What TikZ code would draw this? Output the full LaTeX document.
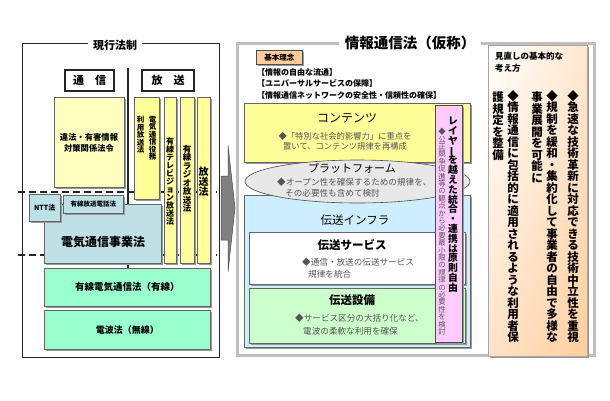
\documentclass[tikz,border=0pt]{standalone}
\usepackage{fontspec}
\setmainfont{Noto Sans CJK JP}
\usetikzlibrary{shapes.geometric,shadows,shadings}
\definecolor{ylw}{HTML}{FFFFC0}
\definecolor{ylwc}{HTML}{FFFF99}
\definecolor{blu}{HTML}{BDE1E6}
\definecolor{grn}{HTML}{99FFCC}
\definecolor{ell}{HTML}{E8E8E8}
\definecolor{infra}{HTML}{CCEEFF}
\definecolor{equip}{HTML}{CCFFCC}
\definecolor{pnk}{HTML}{FFCCFF}
\definecolor{peach}{HTML}{FFCC99}
\definecolor{txtgray}{HTML}{555555}
\newcommand\fsz[2]{\fontsize{#1}{#2}\selectfont}
\ExplSyntaxOn
\NewDocumentCommand\vstack{m}{
  \vbox{\baselineskip=1em \lineskiplimit=-\maxdimen \lineskip=0pt
    \tl_map_inline:nn {#1} {\hbox~to~1em{\hss ##1\hss}}}
}
\ExplSyntaxOff
\newcommand\vbar{\rotatebox[origin=c]{90}{ー}}
\tikzset{
  box/.style={draw=black!60, line width=0.6pt, inner sep=0pt, anchor=north west,
    drop shadow={shadow xshift=2pt, shadow yshift=-2pt, fill=black!40, opacity=1}},
  hdr/.style={draw=black!85, line width=2pt, fill=white, inner sep=0pt, anchor=north west,
    font=\fsz{11}{13}\bfseries},
  vt/.style={inner sep=0pt, anchor=north},
  desc/.style={inner sep=0pt, text=txtgray},
  lbl/.style={inner sep=0pt},
}
\begin{document}
\begin{tikzpicture}[x=1pt,y=-1pt]
\useasboundingbox (0,0) rectangle (610,400);

% ---------------- left panel ----------------
\draw[line width=1pt, black!85] (22,43) rectangle (219,357);
\node[fill=white, inner xsep=5pt, inner ysep=1pt, font=\fsz{11}{13}\bfseries] (lt) at (115,45) {現行法制};
\draw[line width=1.5pt, black!85] (128,68) -- (128,268);
\coordinate (d1a) at (18,192); \coordinate (d1b) at (217,192);
\coordinate (d2a) at (18,255); \coordinate (d2b) at (217,255);
\draw[line width=1.8pt, black!85, dash pattern=on 7pt off 4pt] (d1a) -- (d1b);
\draw[line width=1.8pt, black!85, dash pattern=on 7pt off 4pt] (d2a) -- (d2b);

\node[hdr, minimum width=49pt, minimum height=21pt] (tsu) at (64,69) {通　信};
\node[hdr, minimum width=52pt, minimum height=21pt] (hou) at (141,69) {放　送};

\node[box, fill=ylw, minimum width=70pt, minimum height=90pt] (ih) at (54,97) {};
\node[lbl, align=center, font=\fsz{8.3}{11}\bfseries] (iht) at (89,143) {違法・有害情報\\対策関係法令};

\node[box, fill=ylwc, minimum width=25pt, minimum height=102pt] (b1) at (134,97) {};
\node[box, fill=ylwc, minimum width=12pt, minimum height=166pt] (b2) at (164,97) {};
\node[box, fill=ylwc, minimum width=14pt, minimum height=166pt] (b3) at (180,97) {};
\node[box, fill=ylwc, minimum width=13pt, minimum height=166pt] (b4) at (197,97) {};
\node[vt, font=\bfseries\fsz{7.5}{7.5}] (b1r) at (152.5,116) {\vstack{電気通信役務}};
\node[vt, font=\bfseries\fsz{7.5}{7.5}] (b1l) at (140.5,116) {\vstack{利用放送法}};
\node[vt, font=\bfseries\fsz{8}{8}] (b2t) at (170,137) {\vstack{有線テレビジョン放送法}};
\node[vt, font=\bfseries\fsz{8.5}{8.5}] (b3t) at (187,145) {\vstack{有線ラジオ放送法}};
\node[vt, font=\bfseries\fsz{10}{10}] (b4t) at (203.5,167) {\vstack{放送法}};

\node[box, fill=blu, minimum width=117pt, minimum height=59pt] (jig) at (44,204) {};
\node[lbl, font=\fsz{12}{14}\bfseries] (jigt) at (103,242) {電気通信事業法};
\node[box, fill=blu, minimum width=31pt, minimum height=27pt, font=\fsz{7}{8}\bfseries] (ntt) at (29,194) {NTT法};
\node[box, fill=blu, minimum width=60pt, minimum height=18pt, font=\fsz{6.5}{8}\bfseries] (yhd) at (63,195) {有線放送電話法};

\node[box, fill=grn, minimum width=166pt, minimum height=38pt, font=\fsz{9.5}{11}\bfseries] (yus) at (44,268) {有線電気通信法（有線）};
\node[box, fill=grn, minimum width=166pt, minimum height=39pt, font=\fsz{9}{11}\bfseries] (dph) at (44,310) {電波法（無線）};

% ---------------- arrow ----------------
\path[draw=black!70, fill=black!50, line width=0.5pt]
  (221,176) -- (228,176) -- (228,145) -- (235,208) -- (228,272) -- (228,240) -- (221,240) -- cycle;

% ---------------- right panel ----------------
\draw[line width=3pt, black!25] (237,43) rectangle (594,355);
\node[fill=white, inner xsep=6pt, inner ysep=1pt, font=\fsz{14.5}{16}\bfseries] (rt) at (410,43) {情報通信法（仮称）};

\node[box, fill=peach, draw=black!70, minimum width=46pt, minimum height=14pt, font=\fsz{7.5}{9}\bfseries] (kr) at (256,50) {基本理念};
\node[lbl, anchor=west, font=\fsz{8}{9}\bfseries] (kr1) at (257,72) {【情報の自由な流通】};
\node[lbl, anchor=west, font=\fsz{8}{9}\bfseries] (kr2) at (257,83.5) {【ユニバーサルサービスの保障】};
\node[lbl, anchor=west, font=\fsz{8}{9}\bfseries] (kr3) at (257,95) {【情報通信ネットワークの安全性・信頼性の確保】};

\node[box, fill=ylwc, minimum width=226pt, minimum height=59pt] (con) at (244,103) {};
\node[lbl, font=\fsz{12}{14}] (cont) at (347,118) {コンテンツ};
\node[desc, align=center, font=\fsz{8.3}{9.5}] (cond) at (345,141.5) {◆「特別な社会的影響力」に重点を\\置いて、コンテンツ規律を再構成};

\node[box, fill=infra, minimum width=226pt, minimum height=152pt] (inf) at (244,195) {};
\node[lbl, font=\fsz{11.5}{13}] (inft) at (355,220) {伝送インフラ};

\node[ellipse, draw=black!70, fill=ell, line width=0.6pt, minimum width=225pt, minimum height=43pt, inner sep=0pt] (pf) at (357.5,181.5) {};
\node[lbl, font=\fsz{11}{13}] (pft) at (352,168) {プラットフォーム};
\node[desc, anchor=west, font=\fsz{8.6}{10}] (pd1) at (277,182) {◆オープン性を確保するための規律を、};
\node[desc, anchor=west, font=\fsz{8.6}{10}] (pd2) at (285,193) {その必要性も含めて検討};

\node[box, fill=white, minimum width=216pt, minimum height=52pt] (srv) at (249,232) {};
\node[lbl, font=\fsz{11.5}{13}\bfseries] (srvt) at (352,245) {伝送サービス};
\node[desc, anchor=west, font=\fsz{8.6}{10}] (sd1) at (302,262) {◆通信・放送の伝送サービス};
\node[desc, anchor=west, font=\fsz{8.6}{10}] (sd2) at (308,274) {規律を統合};

\node[box, fill=equip, minimum width=216pt, minimum height=55pt] (eqp) at (249,288) {};
\node[lbl, font=\fsz{11.5}{13}\bfseries] (eqpt) at (352,300) {伝送設備};
\node[desc, anchor=west, font=\fsz{8.6}{10}] (ed1) at (295,318) {◆サービス区分の大括り化など、};
\node[desc, anchor=west, font=\fsz{8.6}{10}] (ed2) at (303,331) {電波の柔軟な利用を確保};

\node[box, fill=pnk, draw=black!70, minimum width=27pt, minimum height=237pt] (pk) at (435,105) {};
\node[vt, font=\bfseries\fsz{9.8}{9.8}] (pkb) at (453,117) {\vstack{レイヤ{\vbar}を越えた統合・連携は原則自由}};
\node[vt, desc, font=\fsz{7.4}{7.4}] (pks) at (442,128) {\vstack{◆公正競争促進等の観点から必要最小限の規律の必要性を検討}};

% ---------------- right box ----------------
\node[box, draw=black!35, upper left=white, upper right=peach!45, lower left=peach!55, lower right=peach!95,
      minimum width=99pt, minimum height=311pt] (mn) at (488,45) {};
\node[lbl, anchor=north west, align=left, font=\fsz{8.5}{12}\bfseries] (mnt) at (495,52) {見直しの基本的な\\考え方};
\node[vt, font=\bfseries\fsz{11.5}{11.5}] (c1) at (573,90) {\vstack{◆急速な技術革新に対応できる技術中立性を重視}};
\node[vt, font=\bfseries\fsz{11.5}{11.5}] (c2) at (552,90) {\vstack{◆規制を緩和・集約化して事業者の自由で多様な}};
\node[vt, font=\bfseries\fsz{11.5}{11.5}] (c3) at (537,90) {\vstack{　事業展開を可能に}};
\node[vt, font=\bfseries\fsz{11.5}{11.5}] (c4) at (513,90) {\vstack{◆情報通信に包括的に適用されるような利用者保}};
\node[vt, font=\bfseries\fsz{11.5}{11.5}] (c5) at (498,90) {\vstack{　護規定を整備}};
\end{tikzpicture}
\end{document}
